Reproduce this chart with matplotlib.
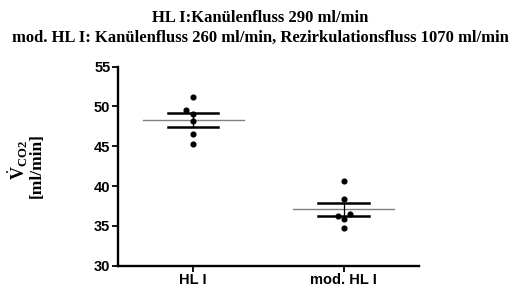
import numpy as np
import matplotlib
matplotlib.use("Agg")
from matplotlib import pyplot as plt

plt.rcParams["mathtext.fontset"] = "custom"
plt.rcParams["mathtext.bf"] = "Liberation Serif:bold"
plt.rcParams["mathtext.rm"] = "Liberation Serif"

categories = ["HL I", "mod. HL I"]
hl1_values = [51.2, 49.55, 49.0, 48.2, 46.55, 45.3]
hl1_jitter = [0.0, -0.045, 0.0, 0.0, 0.0, 0.0]
mod_values = [40.7, 38.35, 36.45, 36.25, 35.85, 34.8]
mod_jitter = [0.0, 0.0, 0.04, -0.04, 0.0, 0.0]
groups = [hl1_values, mod_values]
jitters = [hl1_jitter, mod_jitter]
yticks = [30, 35, 40, 45, 50, 55]

title_1 = "HL I:Kanülenfluss 290 ml/min"
title_2 = "mod. HL I: Kanülenfluss 260 ml/min, Rezirkulationsfluss 1070 ml/min"

fig = plt.figure(figsize=(5.21, 2.92), dpi=100)
ax = fig.add_axes([0.2265, 0.09, 0.804 - 0.2265, 0.6816])

for i, (vals, jit) in enumerate(zip(groups, jitters)):
    vals = np.array(vals)
    mean = vals.mean()
    sem = vals.std(ddof=1) / np.sqrt(len(vals))
    ax.plot(i + np.array(jit), vals, "o", color="black", markersize=3.4, zorder=3)
    ax.plot([i - 0.335, i + 0.335], [mean, mean], color="#808080", lw=1.0, zorder=2)
    ax.plot([i - 0.168, i + 0.168], [mean + sem] * 2, color="black", lw=1.8, zorder=2)
    ax.plot([i - 0.168, i + 0.168], [mean - sem] * 2, color="black", lw=1.8, zorder=2)
    ax.plot([i, i], [mean - sem, mean + sem], color="black", lw=0.9, zorder=2)

ax.set_xlim(-0.5, 1.5)
ax.set_ylim(30, 55)
ax.set_yticks(yticks)
ax.set_xticks(range(len(categories)))
ax.set_xticklabels(categories)
for side in ["top", "right"]:
    ax.spines[side].set_visible(False)
for side in ["left", "bottom"]:
    ax.spines[side].set_linewidth(1.7)
ax.tick_params(direction="out", length=4, width=1.3, pad=1.5)
for lab in ax.get_xticklabels() + ax.get_yticklabels():
    lab.set_fontfamily("Liberation Sans")
    lab.set_fontweight("bold")
    lab.set_fontsize(10.5)

fig.text(0.5, 1 - 18 / 292, title_1, ha="center", va="center", family="Liberation Serif",
         fontweight="bold", fontsize=12)
fig.text(0.5, 1 - 38 / 292, title_2, ha="center", va="center", family="Liberation Serif",
         fontweight="bold", fontsize=12)

fig.text(0.035, 1 - 160 / 292, r"$\dot{\mathbf{V}}_{\mathbf{CO2}}$", rotation=90,
         ha="center", va="center", fontsize=13)
fig.text(0.071, 1 - 166 / 292, "[ml/min]", rotation=90, ha="center", va="center",
         family="Liberation Serif", fontweight="bold", fontsize=12.5)

fig.savefig("out.png", dpi=100)
